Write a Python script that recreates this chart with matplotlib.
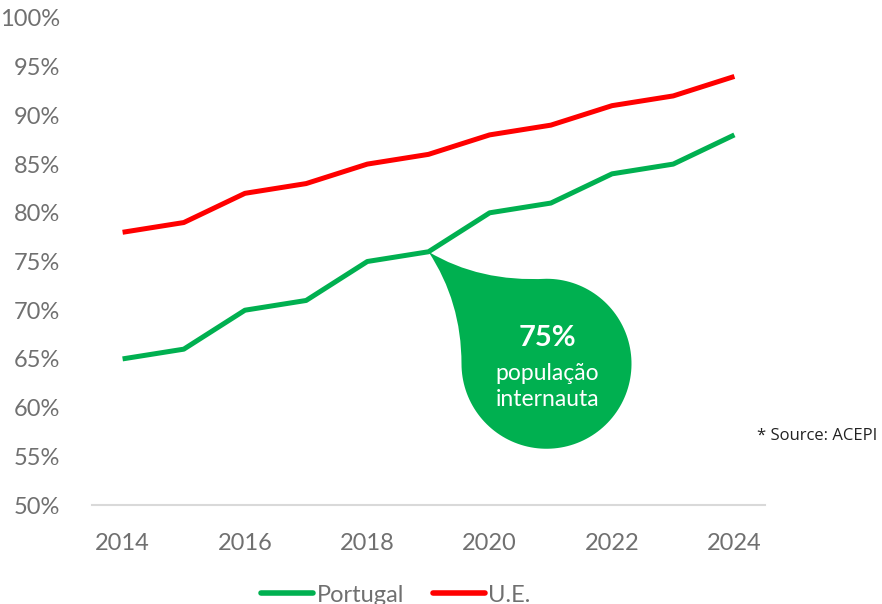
import numpy as np
import matplotlib
matplotlib.use("Agg")
import matplotlib.pyplot as plt
from matplotlib.path import Path
from matplotlib.patches import PathPatch
from matplotlib.transforms import IdentityTransform
from matplotlib.lines import Line2D

years = [2014, 2015, 2016, 2017, 2018, 2019, 2020, 2021, 2022, 2023, 2024]
portugal = [65, 66, 70, 71, 75, 76, 80, 81, 84, 85, 88]
ue = [78, 79, 82, 83, 85, 86, 88, 89, 91, 92, 94]
yticks = [50, 55, 60, 65, 70, 75, 80, 85, 90, 95, 100]
xticks = [2014, 2016, 2018, 2020, 2022, 2024]
callout_year = 2019
callout_value = 76
callout_title = "75%"
callout_text = "população\ninternauta"

GREEN = "#00B050"
RED = "#FF0000"
GRAY = "#707070"
FONT = "Lato"

fig = plt.figure(figsize=(8.82, 6.04), dpi=100)
ax = fig.add_axes([92/882, 1-505/604, (765-92)/882, (505-18)/604])

ax.plot(years, portugal, color=GREEN, lw=3.6, solid_capstyle="butt", zorder=3)
ax.plot(years, ue, color=RED, lw=3.6, solid_capstyle="butt", zorder=3)

ax.set_xlim(2013.5, 2024.5)
ax.set_ylim(50, 100)
ax.set_yticks(yticks)
ax.set_yticklabels([f"{v}%" for v in yticks])
ax.set_xticks(xticks)
ax.set_xticklabels([str(x) for x in xticks])
for s in ["top", "right", "left"]:
    ax.spines[s].set_visible(False)
ax.spines["bottom"].set_color("#d9d9d9")
ax.spines["bottom"].set_linewidth(1.5)
ax.tick_params(axis="both", length=0, labelsize=17, labelcolor=GRAY)
ax.tick_params(axis="y", pad=23)
ax.tick_params(axis="x", pad=20)
for lab in ax.get_xticklabels() + ax.get_yticklabels():
    lab.set_fontfamily(FONT)

# callout bubble anchored at the data point
fig.canvas.draw()
tx, ty = ax.transData.transform((callout_year, callout_value))
cx, cy, r = 118, -112, 85
verts = [(0, 0)]
codes = [Path.MOVETO]
verts += [(33, -50), (cx - r, cy)]
codes += [Path.CURVE3, Path.CURVE3]
th = np.linspace(np.pi, 2.5 * np.pi, 120)[1:]
for t in th:
    verts.append((cx + r * np.cos(t), cy + r * np.sin(t)))
    codes.append(Path.LINETO)
verts += [(51, -30.5), (0, 0)]
codes += [Path.CURVE3, Path.CURVE3]
verts.append((0, 0))
codes.append(Path.CLOSEPOLY)
verts = [(tx + vx, ty + vy) for vx, vy in verts]
patch = PathPatch(Path(verts, codes), facecolor=GREEN, edgecolor="none",
                  transform=IdentityTransform(), zorder=4)
fig.add_artist(patch)

fig.text((tx + cx + 1) / 882, (ty - 86) / 604, callout_title, color="white",
         fontsize=21, fontweight="bold", family=FONT, ha="center", va="center", zorder=5)
fig.text((tx + cx + 1) / 882, (ty - 135) / 604, callout_text, color="white",
         fontsize=16.5, family=FONT, ha="center", va="center",
         linespacing=1.3, zorder=5)

fig.text(757/882, 1 - 436/604, "* Source: ACEPI", fontsize=12, color="#222222",
         family="Open Sans", ha="left", va="center")

handles = [Line2D([], [], color=GREEN, lw=4, solid_capstyle="round"),
           Line2D([], [], color=RED, lw=4, solid_capstyle="round")]
leg = fig.legend(handles, ["Portugal", "U.E."], loc="center", bbox_to_anchor=(396/882, 1 - 595/604),
                 ncol=2, frameon=False, handlelength=2.2, handletextpad=0.15, columnspacing=1.2,
                 prop={"family": FONT, "size": 17})
for t in leg.get_texts():
    t.set_color(GRAY)

fig.savefig("out.png", dpi=100)
